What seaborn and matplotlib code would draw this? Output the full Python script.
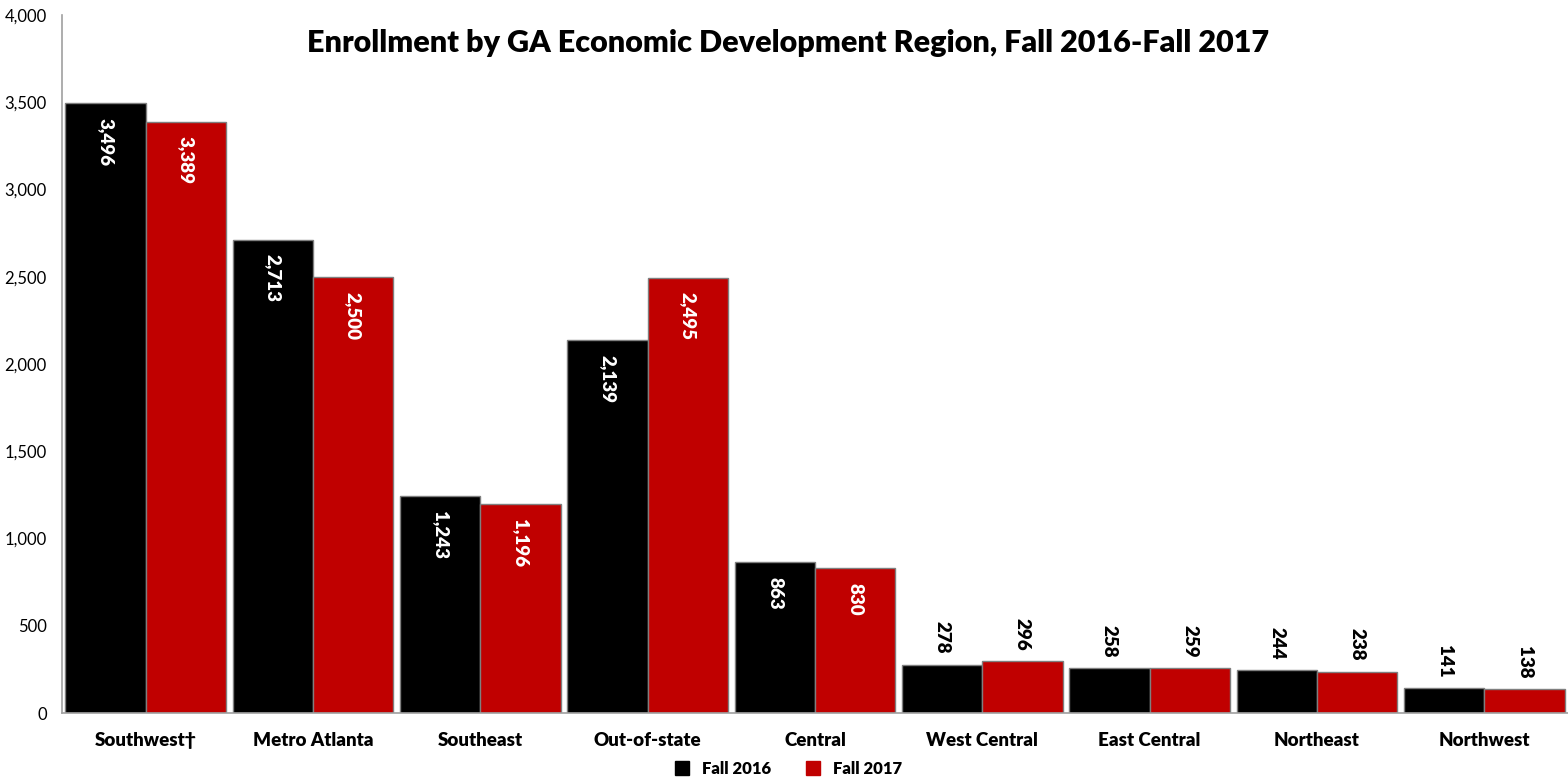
import matplotlib
matplotlib.use("Agg")
import matplotlib.pyplot as plt
import seaborn as sns
import pandas as pd
import numpy as np
from matplotlib.lines import Line2D

regions = ["Southwest\u2020", "Metro Atlanta", "Southeast", "Out-of-state", "Central",
           "West Central", "East Central", "Northeast", "Northwest"]
fall_2016 = [3496, 2713, 1243, 2139, 863, 278, 258, 244, 141]
fall_2017 = [3389, 2500, 1196, 2495, 830, 296, 259, 238, 138]
series = ["Fall 2016", "Fall 2017"]
colors = ["#000000", "#C00000"]
yticks = [0, 500, 1000, 1500, 2000, 2500, 3000, 3500, 4000]

sns.set_style("white")
plt.rcParams['font.family'] = ['Lato', 'DejaVu Sans']
plt.rcParams['text.color'] = 'black'

df = pd.DataFrame({
    "Region": regions * 2,
    "Series": [series[0]] * len(regions) + [series[1]] * len(regions),
    "Value": fall_2016 + fall_2017,
})

fig = plt.figure(figsize=(15.68, 7.78), dpi=100)
ax = fig.add_axes([0.0395, 0.0835, 0.9605, 0.8972])

sns.barplot(data=df, x="Region", y="Value", hue="Series", palette=colors,
            width=0.96, dodge=True, ax=ax, legend=False,
            edgecolor="#7f7f7f", linewidth=1.0, saturation=1)

ax.set_xlim(-0.5, len(regions) - 0.5)
ax.set_ylim(0, 4000)
ax.set_yticks(yticks)
ax.set_yticklabels([f"{v:,}" for v in yticks], fontsize=12, color="black")
ax.set_xticks(range(len(regions)))
ax.set_xticklabels(regions, fontsize=13.5, fontweight="heavy", color="black")
ax.set_xticks(np.arange(-0.5, len(regions), 1.0), minor=True)
ax.tick_params(axis="x", which="major", length=0, pad=14)
ax.tick_params(axis="x", which="minor", length=5, color="#a0a0a0", direction="out")
ax.tick_params(axis="y", length=5, color="#a0a0a0", direction="out", pad=6)
ax.set_xlabel("")
ax.set_ylabel("")
for s in ["top", "right"]:
    ax.spines[s].set_visible(False)
for s in ["left", "bottom"]:
    ax.spines[s].set_color("#a0a0a0")
    ax.spines[s].set_linewidth(1.2)

for container, vals in zip(ax.containers, [fall_2016, fall_2017]):
    for bar, v in zip(container, vals):
        cx = bar.get_x() + bar.get_width() / 2
        h = bar.get_height()
        if v >= 500:
            ax.text(cx, h - 85, f"{v:,}", rotation=270, ha="center", va="top",
                    color="white", fontsize=13.5, fontweight="heavy")
        else:
            ax.text(cx, h + 60, f"{v:,}", rotation=270, ha="center", va="bottom",
                    color="black", fontsize=13.5, fontweight="heavy")

fig.text(0.5025, 0.945, "Enrollment by GA Economic Development Region, Fall 2016-Fall 2017",
         ha="center", va="center", fontsize=22, fontweight="heavy", color="black")

handles = [Line2D([0], [0], marker="s", linestyle="", markersize=10,
                  markerfacecolor=c, markeredgecolor=c) for c in colors]
fig.legend(handles, series, loc="center", bbox_to_anchor=(0.5, 0.012),
           ncol=2, frameon=False, handletextpad=0.2,
           columnspacing=1.5, prop={"weight": "heavy", "size": 12})

fig.savefig("out.png", dpi=100)
